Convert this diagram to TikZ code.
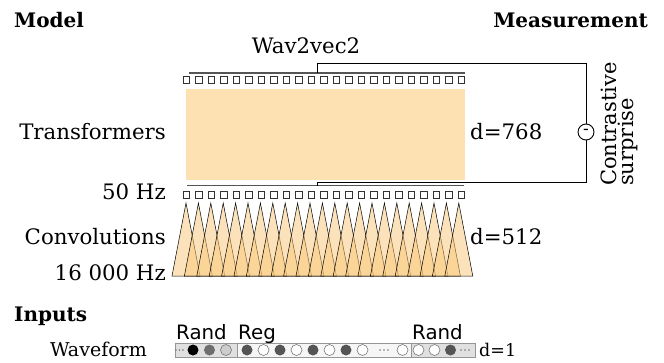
\documentclass[tikz,border=0pt]{standalone}
\usepackage{fontspec}
\setmainfont{DejaVu Serif}
\setsansfont{DejaVu Sans}
\definecolor{trfill}{RGB}{253,225,178}
\definecolor{trifill}{RGB}{250,198,118}
\definecolor{linegray}{RGB}{85,85,85}
\definecolor{sqgray}{RGB}{50,50,50}
\definecolor{randgray}{RGB}{224,224,224}
\definecolor{reggray}{RGB}{246,246,246}
\definecolor{boxedge}{RGB}{150,150,150}
\definecolor{darkdot}{RGB}{85,85,85}
\definecolor{middot}{RGB}{110,110,110}
\definecolor{lightdot}{RGB}{205,205,205}
\definecolor{ringgray}{RGB}{120,120,120}
\begin{document}
\begin{tikzpicture}[x=1pt,y=-1pt,
  txt/.style={inner sep=0pt,font=\fontsize{21.3}{23}\selectfont},
  smalltxt/.style={inner sep=0pt,font=\fontsize{19}{21}\selectfont},
  dtxt/.style={inner sep=0pt,font=\fontsize{17.5}{20}\selectfont},
  boldtxt/.style={inner sep=0pt,font=\fontsize{20}{22}\selectfont\bfseries},
  sanstxt/.style={inner sep=0pt,font=\fontsize{19.8}{21}\selectfont\sffamily},
  sq/.style={draw=sqgray,fill=white,line width=0.8pt,minimum size=6.5pt,inner sep=0pt},
  tri/.style={fill=trifill,fill opacity=0.5,draw=black,draw opacity=1,line width=0.5pt},
  dot/.style={circle,minimum size=11pt,inner sep=0pt},
  wbox/.style={draw=boxedge,line width=0.8pt,inner sep=0pt,minimum height=14pt},
  tiny/.style={circle,fill=ringgray,minimum size=1.6pt,inner sep=0pt}
]
\useasboundingbox (0,0) rectangle (664,362);

% titles
\node[boldtxt,anchor=base west] (model) at (14,27) {Model};
\node[boldtxt,anchor=base east] (meas) at (648,27) {Measurement};
\node[txt,anchor=base] (w2v) at (306,53) {Wav2vec2};

% transformer block
\node[fill=trfill,minimum width=279pt,minimum height=91pt,inner sep=0pt,anchor=north west] (tf) at (186,89) {};
\coordinate (tgl) at (189,73);
\coordinate (tgr) at (465,73);
\draw[linegray,line width=1.2pt] (tgl) -- (tgr);
\coordinate (bgl) at (187,185.5);
\coordinate (bgr) at (464,185.5);
\draw[linegray,line width=1.2pt] (bgl) -- (bgr);

\foreach \i in {0,...,22} {
  \node[sq] (st\i) at (186.5+12.5*\i,80) {};
  \node[sq] (sb\i) at (186.5+12.5*\i,195) {};
}

% triangles
\foreach \i in {0,...,22} {
  \coordinate (p\i) at (186+12.4*\i,203);
  \draw[tri] (p\i) -- ++(-14,73) -- ++(28,0) -- cycle;
}

% measurement bracket
\node[draw=black,fill=white,circle,minimum size=16pt,inner sep=0pt,line width=0.9pt,font=\fontsize{17}{17}\selectfont] (minus) at (586,132) {-};
\coordinate (tt) at (317,73);
\coordinate (bt) at (317,185.5);
\draw[black,line width=1pt] (tt) |- (minus.north |- 0,63) -- (minus.north);
\draw[black,line width=1pt] (minus.south) -- (minus.south |- 0,182.5) -| (bt);
\node[txt,rotate=90,anchor=north west,align=left,font=\fontsize{21}{17}\selectfont] (cs) at (601,186) {Contrastive\\surprise};

% left labels
\node[txt,anchor=base east] (ltf) at (166,139) {Transformers};
\node[txt,anchor=base east] (l50) at (166,199) {50 Hz};
\node[txt,anchor=base east] (lconv) at (166,244) {Convolutions};
\node[txt,anchor=base east] (l16) at (166,280) {16 000 Hz};
\node[txt,anchor=base west] (d768) at (470,139) {d=768};
\node[txt,anchor=base west] (d512) at (470,244) {d=512};

% inputs
\node[boldtxt,anchor=base west] (inputs) at (14,321) {Inputs};
\node[smalltxt,anchor=base east] (wave) at (147,356) {Waveform};

\node[wbox,fill=randgray,minimum width=62pt,anchor=west] (rl) at (175,350) {};
\node[wbox,fill=reggray,minimum width=174pt,anchor=west] (rg) at (237,350) {};
\node[wbox,fill=randgray,minimum width=64pt,anchor=west] (rr) at (411,350) {};
\node[sanstxt,anchor=base west] (lrl) at (176,339) {Rand};
\node[sanstxt,anchor=base west] (lrg) at (238,339) {Reg};
\node[sanstxt,anchor=base west] (lrr) at (412,339) {Rand};
\node[dtxt,anchor=base west] (d1) at (479,356) {d=1};

% dots
\foreach \x in {176,179.5,183} \node[tiny] at (\x,350) {};
\node[dot,fill=black] (c1) at (193,350) {};
\node[dot,fill=middot] (c2) at (209.5,350) {};
\node[dot,fill=lightdot,draw=ringgray,line width=0.6pt] (c3) at (226,350) {};
\foreach \x/\f in {247/1,263.5/0,280/1,296.5/0,313/1,329.5/0,346/1,362.5/0} {
  \ifnum\f=1
    \node[dot,fill=darkdot] at (\x,350) {};
  \else
    \node[dot,fill=white,draw=ringgray,line width=0.6pt] at (\x,350) {};
  \fi
}
\foreach \x in {380,384,388} \node[tiny] at (\x,350) {};
\node[dot,fill=white,draw=ringgray,line width=0.6pt] (c4) at (402.5,350) {};
\node[dot,fill=white,draw=ringgray,line width=0.6pt] (c5) at (418.5,350) {};
\node[dot,fill=white,draw=ringgray,line width=0.6pt] (c6) at (434.5,350) {};
\node[dot,fill=darkdot] (c7) at (450.5,350) {};
\foreach \x in {461,465,469} \node[tiny] at (\x,350) {};
\end{tikzpicture}
\end{document}
